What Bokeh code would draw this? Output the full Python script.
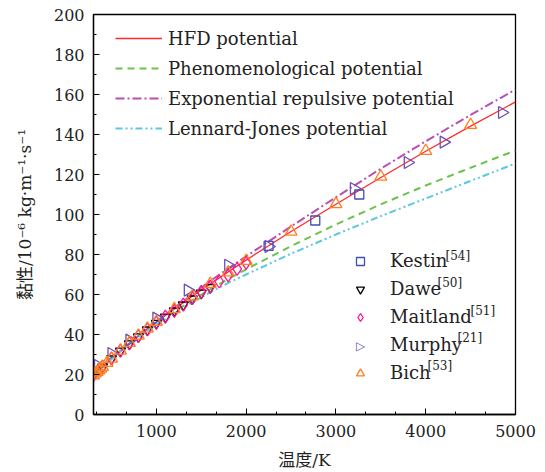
import numpy as np
from bokeh.plotting import figure
from bokeh.models import (Legend, LegendItem, Label, SingleIntervalTicker, Range1d)
from bokeh.embed import file_html
from bokeh.resources import INLINE

# ---- data ----
T_line = [300, 400, 500, 600, 700, 800, 900, 1000, 1200, 1400, 1600, 1800, 2000,
          2500, 3000, 3500, 4000, 4500, 5000]
hfd = [19.5, 23.8, 27.9, 31.8, 35.6, 39.2, 42.7, 46.1, 52.7, 59.1, 65.3, 71.3, 77.2,
       91.5, 105.1, 118.5, 131.6, 144.2, 156.3]
phen = [19.5, 23.8, 27.9, 31.7, 35.4, 38.9, 42.2, 45.4, 51.4, 57.1, 62.6, 67.8, 72.6,
        84.2, 95.0, 105.1, 114.5, 123.4, 132.0]
expo = [19.5, 23.8, 27.9, 31.8, 35.6, 39.3, 42.9, 46.4, 53.3, 60.1, 66.7, 73.0, 79.1,
        94.0, 108.6, 122.9, 136.6, 149.8, 162.5]
lj = [19.5, 23.8, 27.8, 31.6, 35.2, 38.6, 41.8, 44.9, 50.6, 56.0, 61.1, 65.8, 70.0,
      80.4, 90.0, 99.2, 108.0, 116.8, 125.5]

kestin_T = [2250, 2770, 3260]
kestin_v = [84.3, 97.0, 110.0]

dawe_T = [300, 400, 500, 600, 700, 800, 900, 1000, 1100, 1200, 1300, 1400, 1500, 1600]
dawe_v = [19.6, 23.7, 27.8, 31.7, 35.4, 38.9, 42.3, 45.6, 48.7, 51.8, 54.8, 57.8, 60.7, 63.5]

maitland_T = [300, 400, 500, 600, 700, 800, 900, 1000, 1100, 1200, 1300, 1400, 1500,
              1600, 1700, 1800, 1900, 2000]
maitland_v = [19.8, 23.9, 28.0, 31.9, 35.6, 39.2, 42.6, 45.9, 48.9, 51.8, 54.9, 58.2,
              61.3, 63.9, 66.5, 69.6, 72.8, 75.8]

murphy_T = [350, 500, 700, 1000, 1350, 1800, 2250, 3200, 3800, 4200, 4850]
murphy_v = [24.5, 30.5, 37.2, 48.2, 62.2, 74.6, 84.0, 113.0, 126.0, 136.2, 151.0]

bich_T = [300, 320, 340, 360, 380, 400, 450, 500, 600, 700, 800, 900, 1000, 1200,
          1400, 1600, 1800, 2000, 2500, 3000, 3500, 4000, 4500]
bich_v = [19.6, 20.5, 21.3, 22.1, 22.9, 23.8, 25.8, 27.9, 31.9, 35.8, 39.4, 42.9, 46.3,
          52.7, 59.0, 65.3, 71.0, 76.8, 91.4, 105.2, 118.9, 131.8, 144.8]

line_labels = ["HFD potential", "Phenomenological potential",
               "Exponential repulsive potential", "Lennard-Jones potential"]
point_labels = ["Kestin", "Dawe", "Maitland", "Murphy", "Bich"]
point_refs = ["[54]", "[50]", "[51]", "[21]", "[53]"]

SERIF = "DejaVu Serif"
CJK = "DejaVu Serif, Noto Sans CJK SC"
TXT = "#222222"

p = figure(width=545, height=472, output_backend="svg", toolbar_location=None,
           x_range=Range1d(300, 5000), y_range=Range1d(0, 200),
           min_border_left=93, min_border_right=30, min_border_top=14,
           min_border_bottom=57)
p.xgrid.visible = False
p.ygrid.visible = False
p.outline_line_color = "black"
p.outline_line_width = 1.3
p.background_fill_color = "white"
p.border_fill_color = "white"

r_hfd = p.line(T_line, hfd, line_color="#ff2a2a", line_width=1.3)
r_phen = p.line(T_line, phen, line_color="#6cc24a", line_width=2.0, line_dash="7 5")
r_exp = p.line(T_line, expo, line_color="#b94fb2", line_width=2.0, line_dash="9 3 2 3")
r_lj = p.line(T_line, lj, line_color="#5bc8dd", line_width=2.0, line_dash="7 3 2 3 2 3")

MURPHY_COLOR = "#6a4fb8"
mk = dict(fill_color=None, line_width=1.3)
r_k = p.scatter(kestin_T, kestin_v, marker="square", size=9, line_color="#3f4fb0", **mk)
r_d = p.scatter(dawe_T, dawe_v, marker="inverted_triangle", size=10, line_color="black", **mk)
r_m = p.scatter(maitland_T, maitland_v, marker="diamond", size=13, line_color="#ff1493", **mk)
r_mu = p.scatter(murphy_T, murphy_v, marker="triangle", angle=-np.pi / 2, size=12,
                 line_color=MURPHY_COLOR, **mk)
r_b = p.scatter(bich_T, bich_v, marker="triangle", size=12, line_color="#ff7f1e", **mk)
# legend stand-in for Murphy (legend glyphs ignore marker angle)
r_mu_leg = p.scatter([], [], marker="triangle", size=12, line_alpha=0, fill_alpha=0)

# axes
for ax in (p.xaxis[0], p.yaxis[0]):
    ax.major_tick_in = 6
    ax.major_tick_out = 0
    ax.minor_tick_in = 3
    ax.minor_tick_out = 0
    ax.axis_line_color = "black"
    ax.axis_line_width = 1.3
    ax.major_tick_line_color = "black"
    ax.minor_tick_line_color = "black"
    ax.major_label_text_font = SERIF
    ax.major_label_text_font_size = "16px"
    ax.major_label_text_color = TXT
    ax.axis_label_text_font = CJK
    ax.axis_label_text_font_size = "17px"
    ax.axis_label_text_font_style = "normal"
    ax.axis_label_text_color = TXT

p.xaxis[0].ticker = SingleIntervalTicker(interval=1000, num_minor_ticks=3)
p.yaxis[0].ticker = SingleIntervalTicker(interval=20, num_minor_ticks=2)
p.xaxis[0].major_label_standoff = 10
p.yaxis[0].major_label_standoff = 9
p.xaxis[0].axis_label = "温度/K"
p.yaxis[0].axis_label = "黏性/10⁻⁶ kg·m⁻¹·s⁻¹"
p.xaxis[0].axis_label_standoff = 10
p.yaxis[0].axis_label_standoff = 16

# line legend
leg1 = Legend(items=[LegendItem(label=l, renderers=[r]) for l, r in
                     zip(line_labels, [r_hfd, r_phen, r_exp, r_lj])],
              location=(22, 275.5), glyph_width=47, glyph_height=20, label_height=20,
              spacing=9, label_standoff=6, padding=0, margin=0,
              border_line_color=None, background_fill_alpha=0,
              label_text_font=SERIF, label_text_font_size="18px",
              label_text_color=TXT)
p.add_layout(leg1, "center")

leg2 = Legend(items=[LegendItem(label=l, renderers=[r]) for l, r in
                     zip(point_labels, [r_k, r_d, r_m, r_mu_leg, r_b])],
              location=(257, 31), glyph_width=20, glyph_height=20, label_height=20,
              spacing=7, label_standoff=20, padding=0, margin=0,
              border_line_color=None, background_fill_alpha=0,
              label_text_font=SERIF, label_text_font_size="18px",
              label_text_color=TXT)
p.add_layout(leg2, "center")

# Murphy legend symbol
p.add_layout(Label(x=267, y=68.5, x_units="screen", y_units="screen", text="▷",
                   text_font="DejaVu Sans", text_font_size="12px",
                   text_color=MURPHY_COLOR, text_align="center",
                   text_baseline="middle"))

# superscript references (screen positions relative to the frame)
sup_x = [352, 344, 377, 364, 334]
row_y = [159, 131.5, 104, 76.5, 49]
for ref, sx, sy in zip(point_refs, sup_x, row_y):
    p.add_layout(Label(x=sx, y=sy, x_units="screen", y_units="screen", text=ref,
                       text_font=SERIF, text_font_size="12px", text_color=TXT,
                       text_baseline="alphabetic"))

open("out.html", "w").write(file_html(p, INLINE))
